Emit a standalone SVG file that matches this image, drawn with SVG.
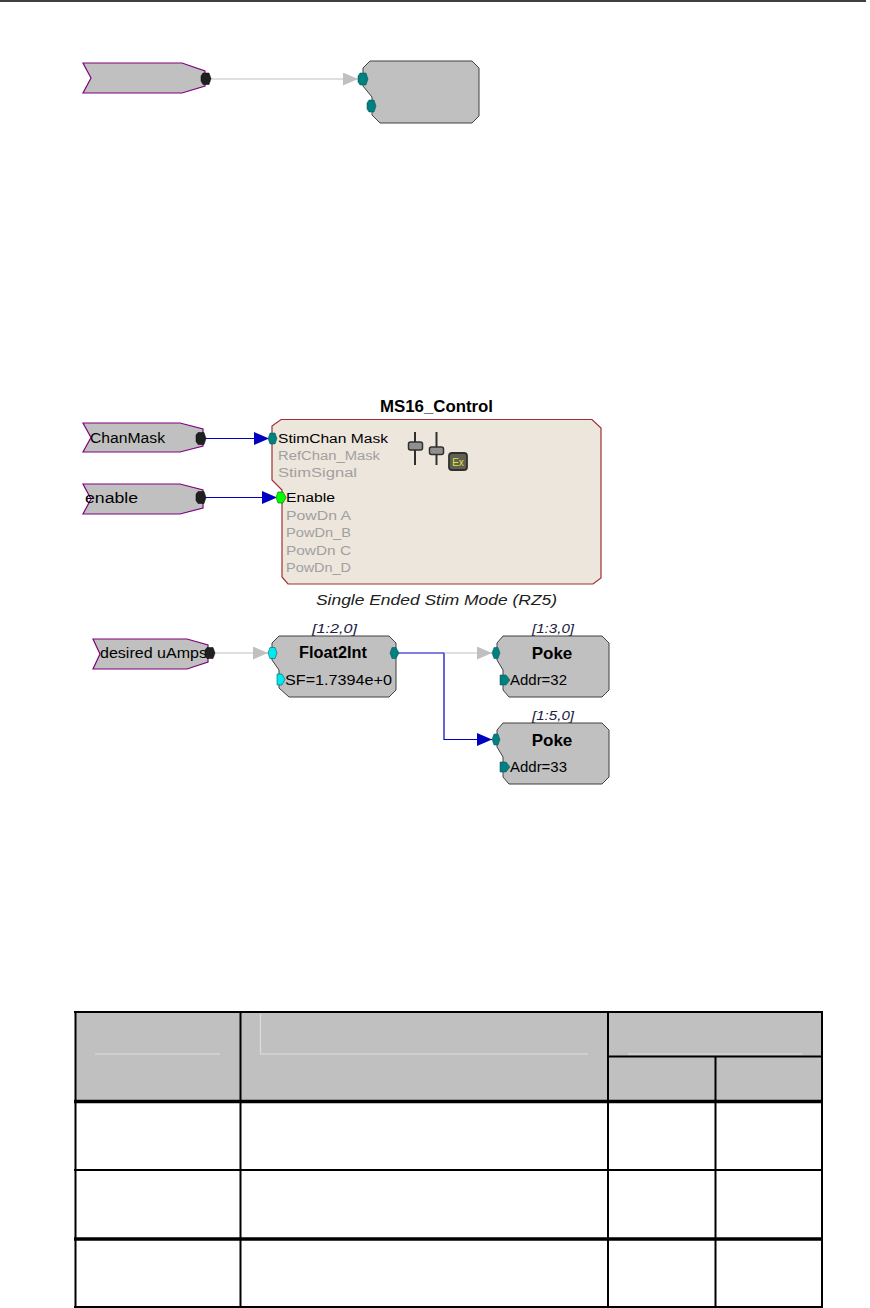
<svg xmlns="http://www.w3.org/2000/svg" width="870" height="1308" viewBox="0 0 870 1308">
<style>
.tag{fill:#c0c0c0;stroke:#800080;stroke-width:1.2}
.blk{fill:#c0c0c0;stroke:#404040;stroke-width:1}
.ms{fill:#ede6dc;stroke:#a03030;stroke-width:1.2}
.pb{fill:#202020;stroke:#000;stroke-width:0.5}
.pt{fill:#008080;stroke:#005050;stroke-width:0.5}
.pc{fill:#00e8f0;stroke:#006060;stroke-width:0.6}
.pg{fill:#00ff00;stroke:#006000;stroke-width:0.6}
.t{font-family:"Liberation Sans",Arial,sans-serif;fill:#000}
.lbl{font-size:14px}
.pl{font-size:12.5px}
.gr{fill:#a0a0a0}
.ttl{font-size:16px;font-weight:bold;text-anchor:middle}
.idx{font-size:13px;font-style:italic;text-anchor:middle;fill:#202040}
.wg{stroke:#c0c0c0;stroke-width:1.2;fill:none}
.wb{stroke:#0000c0;stroke-width:1.2;fill:none}
.tb{stroke:#000;stroke-width:2;fill:none}
.tk{stroke:#000;stroke-width:3.5;fill:none}
.hl{stroke:#dcdcdc;stroke-width:1.2;fill:none}
</style>
<defs>
<marker id="ag" markerWidth="15" markerHeight="13" refX="15" refY="6.5" orient="auto" markerUnits="userSpaceOnUse"><path d="M0,0 L15,6.5 L0,13 Z" fill="#c0c0c0"/></marker>
<marker id="ab" markerWidth="15" markerHeight="13" refX="15" refY="6.5" orient="auto" markerUnits="userSpaceOnUse"><path d="M0,0 L15,6.5 L0,13 Z" fill="#0000c0"/></marker>
</defs>

<line x1="0" y1="1" x2="866" y2="1" stroke="#000" stroke-width="1.5"/>

<g id="connectors">
<line class="wg" x1="210" y1="79" x2="358" y2="79" marker-end="url(#ag)"/>
<line class="wb" x1="205" y1="438.5" x2="269" y2="438.5" marker-end="url(#ab)"/>
<line class="wb" x1="205" y1="497.5" x2="277" y2="497.5" marker-end="url(#ab)"/>
<line class="wg" x1="215" y1="653" x2="268" y2="653" marker-end="url(#ag)"/>
<polyline class="wb" points="398,653 444,653 444,739.5 492,739.5" marker-end="url(#ab)"/>
<line class="wg" x1="444" y1="653" x2="492" y2="653" marker-end="url(#ag)"/>
</g>

<g id="node-top-input">
<polygon class="tag" points="83,63 182,63 205,71 205,86 182,93 83,93 91,78"/>
<polygon class="pb" points="201,76 203,73 209,73 211,78.5 209,84.5 203,84.5 201,81"/>
</g>

<g id="node-top-block">
<path class="blk" d="M370,61 L472,61 L479,68 L479,116 L472,123 L380,123 L372,115 L372,97 L363,86 L363,68 Z"/>
<polygon class="pt" points="358,76 360,73 366,73 368,79 366,85 360,85 358,82"/>
<polygon class="pt" points="367,103 369,100 374,100 376,106 374,112 369,112 367,109"/>
</g>

<g id="node-chanmask">
<polygon class="tag" points="83,423 180,423 203,429 203,446 180,452 83,452 91,437.5"/>
<text class="t lbl" x="90" y="443" textLength="75" lengthAdjust="spacingAndGlyphs">ChanMask</text>
<polygon class="pb" points="196,435 198,432.5 204,432.5 206,438.5 204,444.5 198,444.5 196,441.5"/>
</g>

<g id="node-enable">
<polygon class="tag" points="83,484 180,484 203,490 203,508 180,514 83,514 91,499"/>
<text class="t lbl" x="85" y="503" textLength="53" lengthAdjust="spacingAndGlyphs">enable</text>
<polygon class="pb" points="196,494 198,491.5 204,491.5 206,497.5 204,503.5 198,503.5 196,500.5"/>
</g>

<g id="node-ms16">
<text class="t" x="436.5" y="412" textLength="113" lengthAdjust="spacingAndGlyphs" style="font-size:16px;font-weight:bold;text-anchor:middle">MS16_Control</text>
<path class="ms" d="M281,419.5 L592,419.5 L601,428 L601,578 L593,584 L288,584 L282,577 L282,490 L272,480 L272,426 Z"/>
<polygon class="pt" points="268,438.5 270,433 275,433 277,438.5 275,444 270,444"/>
<polygon class="pg" points="276,497.5 278,492 283,492 286,497.5 283,503 278,503"/>
<text class="t pl" x="278" y="443" textLength="110" lengthAdjust="spacingAndGlyphs">StimChan  Mask</text>
<text class="t pl gr" x="278" y="460" textLength="102" lengthAdjust="spacingAndGlyphs">RefChan_Mask</text>
<text class="t pl gr" x="278" y="477" textLength="79" lengthAdjust="spacingAndGlyphs">StimSignal</text>
<text class="t pl" x="286" y="502" textLength="49" lengthAdjust="spacingAndGlyphs">Enable</text>
<text class="t pl gr" x="286" y="520" textLength="65" lengthAdjust="spacingAndGlyphs">PowDn  A</text>
<text class="t pl gr" x="286" y="537" textLength="65" lengthAdjust="spacingAndGlyphs">PowDn_B</text>
<text class="t pl gr" x="286" y="555" textLength="65" lengthAdjust="spacingAndGlyphs">PowDn  C</text>
<text class="t pl gr" x="286" y="572" textLength="65" lengthAdjust="spacingAndGlyphs">PowDn_D</text>
<line x1="415" y1="432" x2="415" y2="465" stroke="#303030" stroke-width="2"/>
<rect x="408.5" y="442" width="14" height="8" rx="2" fill="#909090" stroke="#303030" stroke-width="1.5"/>
<line x1="436.5" y1="432" x2="436.5" y2="465" stroke="#303030" stroke-width="2"/>
<rect x="429.5" y="447" width="14" height="7.5" rx="2" fill="#909090" stroke="#303030" stroke-width="1.5"/>
<rect x="449" y="453" width="18" height="17" rx="3" fill="#606050" stroke="#303030" stroke-width="1.8"/>
<text class="t" x="458" y="466" style="font-size:10px;fill:#e0e040;text-anchor:middle">Ex</text>
<text class="t" x="436.5" y="605" textLength="241" lengthAdjust="spacingAndGlyphs" style="font-size:15px;font-style:italic;text-anchor:middle;fill:#202020">Single Ended Stim Mode (RZ5)</text>
</g>

<g id="node-desired">
<polygon class="tag" points="93,639 187,639 208,645 208,662 187,669 93,669 100,654"/>
<text class="t lbl" x="100" y="658" textLength="107" lengthAdjust="spacingAndGlyphs">desired uAmps</text>
<polygon class="pb" points="205,650 207,647.5 213,647.5 215,653 213,658.5 207,658.5 205,656"/>
</g>

<g id="node-float2int">
<text class="t idx" x="334.5" y="633" textLength="45" lengthAdjust="spacingAndGlyphs">[1:2,0]</text>
<path class="blk" d="M279,636 L389,636 L396,643 L396,690 L389,697 L289,697 L279,688 L279,670 L272,660 L272,643 Z"/>
<polygon class="pc" points="268,653 270,647.5 275,647.5 277,653 275,658.5 270,658.5"/>
<polygon class="pc" points="277,674 282,674 285,679.5 282,685 277,685"/>
<polygon class="pt" points="390,653 392,647.5 396,647.5 399,653 396,658.5 392,658.5"/>
<text class="t ttl" x="333" y="658" textLength="68" lengthAdjust="spacingAndGlyphs">Float2Int</text>
<text class="t lbl" x="285" y="685" textLength="107" lengthAdjust="spacingAndGlyphs">SF=1.7394e+0</text>
</g>

<g id="node-poke1">
<text class="t idx" x="553" y="633" textLength="42" lengthAdjust="spacingAndGlyphs">[1:3,0]</text>
<path class="blk" d="M503,636 L602,636 L609,643 L609,690 L602,697 L509,697 L503,690 L503,670 L497,660 L497,643 Z"/>
<polygon class="pt" points="492,653 494,647.5 498,647.5 500,653 498,658.5 494,658.5"/>
<polygon class="pt" points="500,675 506,675 510,680 506,685 500,685"/>
<text class="t ttl" x="552" y="659" style="font-size:17px">Poke</text>
<text class="t lbl" x="510" y="685" textLength="57" lengthAdjust="spacingAndGlyphs">Addr=32</text>
</g>

<g id="node-poke2">
<text class="t idx" x="553" y="720" textLength="42" lengthAdjust="spacingAndGlyphs">[1:5,0]</text>
<path class="blk" d="M503,723 L602,723 L609,730 L609,777 L602,784 L509,784 L503,777 L503,757 L497,747 L497,730 Z"/>
<polygon class="pt" points="492,739.5 494,734 498,734 500,739.5 498,745 494,745"/>
<polygon class="pt" points="500,762 506,762 510,767 506,772 500,772"/>
<text class="t ttl" x="552" y="746" style="font-size:17px">Poke</text>
<text class="t lbl" x="510" y="772" textLength="57" lengthAdjust="spacingAndGlyphs">Addr=33</text>
</g>

<g id="table">
<rect x="75" y="1012" width="747" height="89" fill="#c0c0c0"/>
<line class="hl" x1="95" y1="1054" x2="220" y2="1054"/>
<polyline class="hl" points="260.5,1014 260.5,1054 588,1054"/>
<line class="hl" x1="628" y1="1054" x2="802" y2="1054"/>
<line class="tb" x1="74" y1="1012" x2="823" y2="1012"/>
<line class="tb" x1="608" y1="1056.5" x2="823" y2="1056.5"/>
<line class="tk" x1="74" y1="1101.5" x2="823" y2="1101.5"/>
<line class="tb" x1="74" y1="1170" x2="823" y2="1170"/>
<line class="tk" x1="74" y1="1239" x2="823" y2="1239"/>
<line class="tb" x1="74" y1="1307" x2="823" y2="1307"/>
<line class="tb" x1="75.5" y1="1011" x2="75.5" y2="1308"/>
<line class="tb" x1="240.5" y1="1011" x2="240.5" y2="1308"/>
<line class="tb" x1="608" y1="1011" x2="608" y2="1308"/>
<line class="tb" x1="715.5" y1="1056" x2="715.5" y2="1308"/>
<line class="tb" x1="822" y1="1011" x2="822" y2="1308"/>
</g>
</svg>
